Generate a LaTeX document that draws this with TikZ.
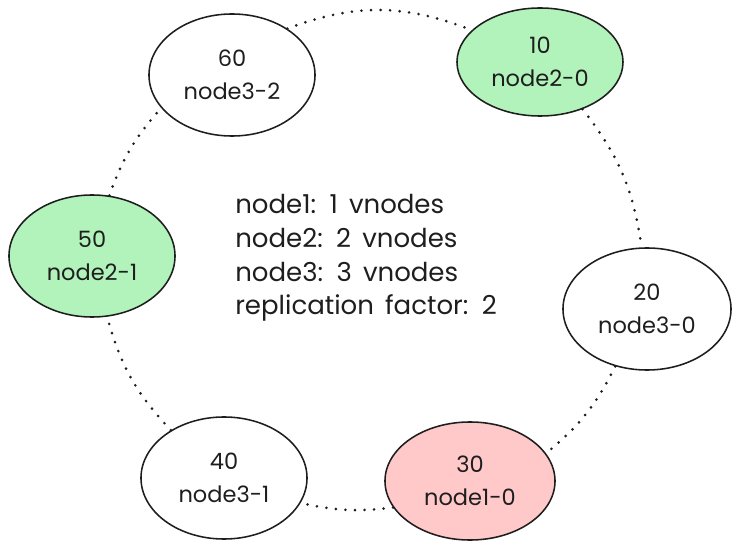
\documentclass[tikz,border=0pt]{standalone}
\usepackage{fontspec}
\setmainfont{Poppins}[WordSpace=1.6]
\usetikzlibrary{shapes.geometric, positioning}
\definecolor{inkblack}{RGB}{30, 30, 30}
\definecolor{vnodegreen}{RGB}{178, 242, 187}
\definecolor{vnodered}{RGB}{255, 201, 201}

\begin{document}
\begin{tikzpicture}[
    x=0.025cm, y=-0.025cm,
    vnode/.style={draw=inkblack, ellipse, line width=1.1pt, minimum width=4.15cm, minimum height=3.05cm, inner sep=0pt, align=center, text=inkblack, font=\fontsize{16}{23.5}\selectfont},
    ringlink/.style={draw=inkblack, line width=2.1pt, line cap=round, dash pattern=on 0pt off 6.8pt}
]
\useasboundingbox (0,0) rectangle (738,551);

\node[vnode] (n60) at (232,75) {60\\node3-2};
\node[vnode, fill=vnodegreen, minimum height=2.7cm] (n10) at (540,62) {10\\node2-0};
\node[vnode, fill=vnodegreen] (n50) at (92,256) {50\\node2-1};
\node[vnode, minimum width=4.2cm] (n20) at (647,309) {20\\node3-0};
\node[vnode] (n40) at (224,478) {40\\node3-1};
\node[vnode, fill=vnodered, minimum width=4.25cm, minimum height=2.95cm] (n30) at (470,481) {30\\node1-0};

\node[anchor=west, align=left, inner sep=0pt, text=inkblack, font=\fontsize{18.5}{24}\selectfont] (info) at (235,258)
    {node1: 1 vnodes\\node2: 2 vnodes\\node3: 3 vnodes\\replication factor: 2};

\draw[ringlink] (n60.40) to[bend left=21] (n10.155);
\draw[ringlink] (n10.-48) to[bend left=15] (n20.95);
\draw[ringlink] (n20.-119) to[bend left=12] (n30.20);
\draw[ringlink] (n30.199) to[bend left=10] (n40.-18);
\draw[ringlink] (n40.138) to[bend left=14] (n50.-76);
\draw[ringlink] (n50.74) to[bend left=11] (n60.205);

\end{tikzpicture}
\end{document}
